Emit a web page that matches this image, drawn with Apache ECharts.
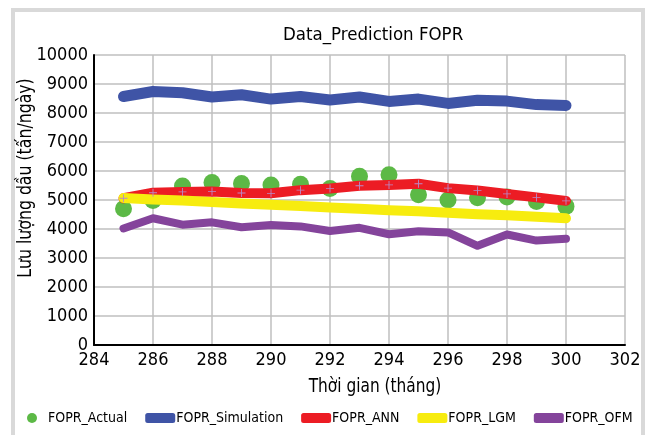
<!DOCTYPE html>
<html lang="vi">
<head>
    <meta charset="UTF-8">
    <title>Data_Prediction FOPR</title>
    <script src="https://cdn.jsdelivr.net/npm/echarts@6/dist/echarts.min.js"></script>
    <style>
        html,body{margin:0;padding:0;background:#fff;}
        #main{width:651px;height:435px;}
    </style>
</head>
<body>
<div id="main"></div>
<script>
    // thang (truc x)
    var months = [285,286,287,288,289,290,291,292,293,294,295,296,297,298,299,300];
    // luu luong dau cac mo hinh
    var foprActual = [4700,4980,5480,5600,5570,5520,5540,5400,5820,5870,5180,5000,5080,5100,4950,4780];
    var foprSimulation = [8570,8740,8700,8550,8630,8480,8570,8450,8550,8400,8480,8330,8440,8410,8290,8260];
    var foprANN = [5060,5250,5280,5290,5240,5230,5340,5400,5490,5520,5560,5410,5330,5210,5090,4970];
    var foprLGM = [5070,5020,4980,4930,4880,4840,4790,4740,4700,4650,4610,4560,4510,4470,4420,4370];
    var foprOFM = [4020,4370,4150,4230,4060,4140,4090,3930,4040,3820,3920,3880,3420,3810,3600,3660];

    var font = "'DejaVu Sans Condensed','Liberation Sans Narrow',sans-serif";

    function pairs(vals){
        var out = [];
        for (var i = 0; i < months.length; i++) {
            out.push([months[i], vals[i]]);
        }
        return out;
    }

    function lineSeries(name, vals, color, width){
        return {
            name: name,
            type: 'line',
            data: pairs(vals),
            symbol: 'none',
            lineStyle: {color: color, width: width, cap: 'round', join: 'round'},
            itemStyle: {color: color}
        };
    }

    var myChart = echarts.init(document.getElementById('main'));

    // duong ANN co dau "+" nho tai moi diem
    var annSeries = lineSeries('FOPR_ANN', foprANN, '#ec1c24', 10);
    annSeries.symbol = 'path://M4,0h1v4h4v1h-4v4h-1v-4h-4v-1h4z';
    annSeries.symbolSize = 8;
    annSeries.showSymbol = true;
    annSeries.itemStyle = {color: '#b98ac8'};

    var option = {
        backgroundColor: '#fff',
        textStyle: {fontFamily: font},
        title: {
            text: 'Data_Prediction FOPR',
            left: 283,
            top: 26,
            padding: 0,
            textStyle: {fontFamily: font, fontSize: 18.5, fontWeight: 'normal', color: '#000'}
        },
        legend: {
            bottom: 5,
            left: 22,
            right: 0,
            itemWidth: 30,
            itemHeight: 10,
            itemGap: 18,
            textStyle: {fontFamily: font, fontSize: 14, color: '#000', padding: [0,0,0,-4]},
            data: [
                {name: 'FOPR_Actual', icon: 'circle', itemStyle: {color: '#5cb946'}},
                {name: 'FOPR_Simulation', icon: 'roundRect', itemStyle: {color: '#3f54a6'}},
                {name: 'FOPR_ANN', icon: 'roundRect', itemStyle: {color: '#ec1c24'}},
                {name: 'FOPR_LGM', icon: 'roundRect', itemStyle: {color: '#f7ec0f'}},
                {name: 'FOPR_OFM', icon: 'roundRect', itemStyle: {color: '#84449b'}}
            ]
        },
        grid: {left: 94, right: 26, top: 55, bottom: 90},
        xAxis: {
            type: 'value',
            min: 284,
            max: 302,
            interval: 2,
            axisLine: {lineStyle: {color: '#000', width: 2}},
            axisTick: {show: false},
            axisLabel: {color: '#000', fontSize: 18, fontFamily: font, margin: 6},
            splitLine: {show: true, lineStyle: {color: '#bfbfbf', width: 1.5}}
        },
        yAxis: {
            type: 'value',
            min: 0,
            max: 10000,
            interval: 1000,
            axisLine: {show: true, lineStyle: {color: '#000', width: 2}},
            axisTick: {show: false},
            axisLabel: {
                color: '#000', fontSize: 18, fontFamily: font, margin: 6,
                formatter: function (v) { return String(v); }
            },
            splitLine: {show: true, lineStyle: {color: '#bfbfbf', width: 1.5}}
        },
        graphic: [
            {
                type: 'rect',
                shape: {x: 13, y: 10, width: 630, height: 440},
                style: {fill: null, stroke: '#d9d9d9', lineWidth: 4},
                silent: true
            },
            {
                type: 'text',
                x: 26,
                y: 178,
                rotation: Math.PI / 2,
                scaleX: 0.92,
                style: {
                    text: 'Lưu lượng dầu (tấn/ngày)',
                    fontFamily: font,
                    fontSize: 19,
                    fill: '#000',
                    align: 'center',
                    verticalAlign: 'middle'
                }
            },
            {
                type: 'text',
                x: 375,
                y: 387,
                scaleX: 0.9,
                style: {
                    text: 'Thời gian (tháng)',
                    fontFamily: font,
                    fontSize: 19,
                    fill: '#000',
                    align: 'center',
                    verticalAlign: 'middle'
                }
            }
        ],
        series: [
            {
                name: 'FOPR_Actual',
                type: 'scatter',
                data: pairs(foprActual),
                symbol: 'circle',
                symbolSize: 17,
                itemStyle: {color: '#5cb946', opacity: 1}
            },
            lineSeries('FOPR_Simulation', foprSimulation, '#3f54a6', 11),
            annSeries,
            lineSeries('FOPR_LGM', foprLGM, '#f7ec0f', 10),
            lineSeries('FOPR_OFM', foprOFM, '#84449b', 8)
        ]
    };

    myChart.setOption(option);
</script>
</body>
</html>
